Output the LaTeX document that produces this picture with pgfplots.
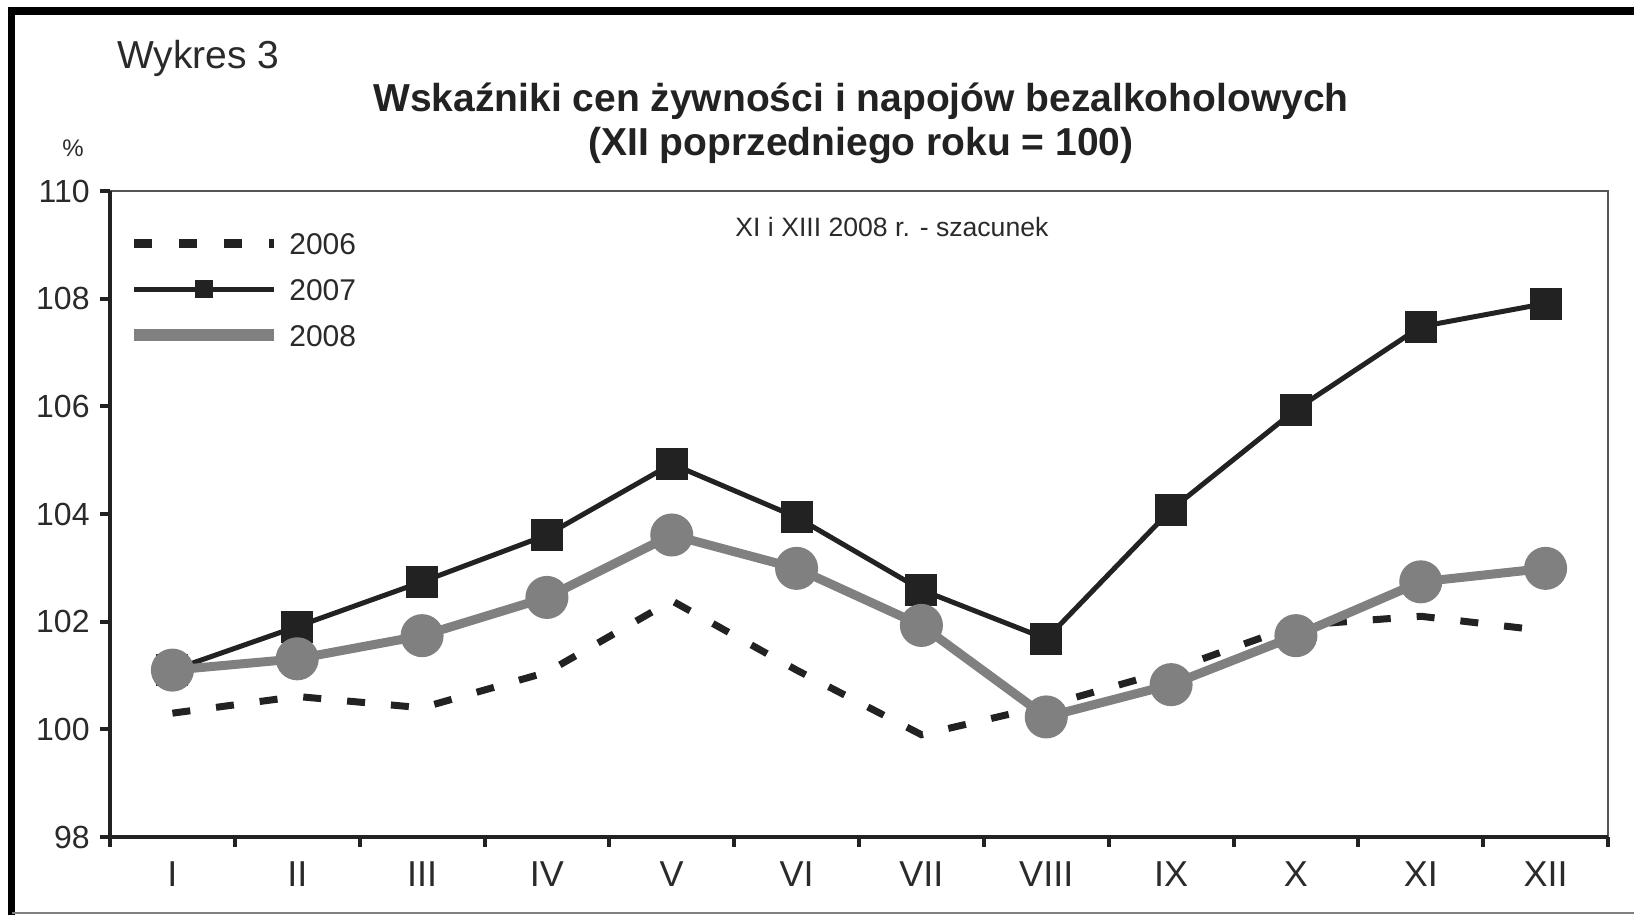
\documentclass[border=0pt]{standalone}
\usepackage{pgfplots}
\pgfplotsset{compat=1.18}
\usepackage{fontspec}
\setmainfont{Liberation Sans}
\definecolor{ink}{HTML}{222222}
\definecolor{txt}{HTML}{2A2A2A}
\definecolor{grayline}{HTML}{808080}
\definecolor{boxgray}{HTML}{555555}

\pgfplotstableread{
x y
1 100.30
2 100.61
3 100.40
4 101.06
5 102.39
6 101.10
7 99.90
8 100.44
9 101.10
10 101.93
11 102.10
12 101.83
}\dataA
\pgfplotstableread{
x y
1 101.10
2 101.91
3 102.74
4 103.61
5 104.93
6 103.94
7 102.59
8 101.68
9 104.08
10 105.94
11 107.48
12 107.91
}\dataB
\pgfplotstableread{
x y
1 101.10
2 101.31
3 101.74
4 102.45
5 103.61
6 102.99
7 101.93
8 100.23
9 100.83
10 101.74
11 102.74
12 102.99
}\dataC

\begin{document}
\begin{tikzpicture}
\path[use as bounding box] (0pt,0pt) rectangle (817pt,457.5pt);
% outer frame
\draw[black, line width=4pt] (4pt,452pt) -- (817pt,452pt);
\draw[black, line width=3.5pt] (5.75pt,0pt) -- (5.75pt,454pt);
\draw[gray, line width=0.6pt] (5.75pt,1pt) -- (817pt,1pt);
% texts
\node[anchor=base west, inner sep=0pt, text=txt, font=\fontsize{19.5}{19.5}\selectfont] at (58.5pt,423pt) {Wykres 3};
\node[anchor=base, inner sep=0pt, text=ink, font=\fontsize{19.5}{19.5}\selectfont\bfseries] at (430.5pt,401.75pt) {Wskaźniki cen żywności i napojów bezalkoholowych};
\node[anchor=base, inner sep=0pt, text=ink, font=\fontsize{19.5}{19.5}\selectfont\bfseries] at (430.5pt,379.5pt) {(XII poprzedniego roku = 100)};
\node[anchor=center, inner sep=0pt, text=txt, font=\fontsize{12}{12}\selectfont] at (36.5pt,383.5pt) {\%};

\begin{axis}[
  at={(55pt,39pt)}, anchor=south west,
  width=749pt, height=323pt, scale only axis,
  xmin=0.5, xmax=12.5, ymin=98, ymax=110,
  clip=false,
  axis line style={draw=none},
  /pgf/number format/assume math mode=true,
  xtick pos=bottom, ytick pos=left,
  xtick={1,...,12},
  xticklabels={I,II,III,IV,V,VI,VII,VIII,IX,X,XI,XII},
  minor xtick={0.5,1.5,...,12.5},
  ytick={98,100,...,110},
  tick align=outside,
  major tick length=5pt, minor tick length=5pt,
  major x tick style={draw=none},
  tick style={ink, line width=2pt},
  xticklabel style={font=\fontsize{18}{18}\selectfont, text=txt, anchor=base, inner sep=0pt, yshift=-20pt},
  yticklabel style={font=\fontsize{16}{16}\selectfont, text=txt, anchor=east, inner sep=0pt, xshift=-5pt},
  legend style={draw=none, fill=none, at={(0.012,0.937)}, anchor=north west,
    font=\fontsize{15}{15}\selectfont, text=txt, row sep=11.8pt, column sep=4.5pt, inner sep=0pt,
    nodes={inner sep=0pt, text height=11.2pt, text depth=0pt}},
  legend cell align=left,
  after end axis/.code={
    \draw[boxgray, line width=1.4pt] (rel axis cs:0,1) -- (rel axis cs:1,1) -- (rel axis cs:1,0);
    \draw[ink, line width=2.4pt] (rel axis cs:0,1) -- (rel axis cs:0,0) -- (rel axis cs:1,0);
  },
]
\addplot[ink, line width=3.5pt, dash pattern=on 9pt off 13pt,
  legend image code/.code={\draw[ink, line width=4.5pt, dash pattern=on 9pt off 13.5pt] (0pt,0pt) -- (70pt,0pt);}]
  table[x=x, y=y] {\dataA};
\addlegendentry{2006}
\addplot[ink, line width=2.5pt, mark=square*, mark size=6.75pt, mark options={solid},
  legend image code/.code={\draw[ink, line width=2.5pt] (0pt,0pt) -- (70pt,0pt);
    \draw[ink] plot[only marks, mark=square*, mark size=3.25pt] coordinates {(35pt,0pt)};}]
  table[x=x, y=y] {\dataB};
\addlegendentry{2007}
\addplot[grayline, line width=4.5pt, mark=*, mark size=8.5pt, mark options={solid},
  legend image code/.code={\draw[grayline, line width=6pt] (0pt,0pt) -- (70pt,0pt);}]
  table[x=x, y=y] {\dataC};
\addlegendentry{2008}
\node[anchor=center, inner sep=0pt, text=txt, font=\fontsize{13.3}{13.3}\selectfont] at (rel axis cs:0.522,0.944) {XI i XIII 2008 r. - szacunek};
\end{axis}
\end{tikzpicture}
\end{document}
